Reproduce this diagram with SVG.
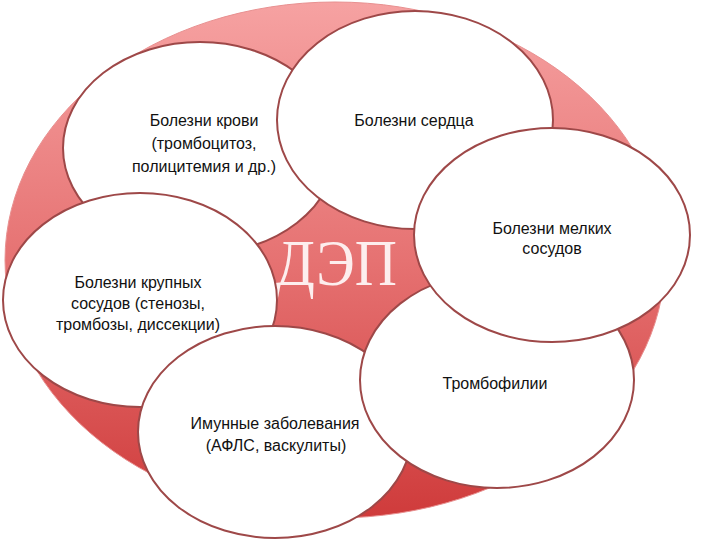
<svg xmlns="http://www.w3.org/2000/svg" width="720" height="540" viewBox="0 0 720 540">
  <defs>
    <linearGradient id="bg" x1="0" y1="0" x2="0" y2="1">
      <stop offset="0" stop-color="#f6a2a2"/>
      <stop offset="0.5" stop-color="#e67272"/>
      <stop offset="1" stop-color="#cf3b3b"/>
    </linearGradient>
  </defs>
  <style>
    .node { fill: #ffffff; stroke: #9e4848; stroke-width: 2; }
    .lbl { font-family: "Liberation Sans", Arial, sans-serif; font-size: 16px; fill: #111111; text-anchor: middle; }
    .dep { font-family: "Liberation Serif", "Times New Roman", serif; font-size: 66px; fill: #fdeeee; text-anchor: middle; }
  </style>
  <rect x="0" y="0" width="720" height="540" fill="#ffffff"/>
  <g id="background">
    <ellipse cx="335" cy="260" rx="330" ry="258" fill="url(#bg)" stroke="#e89090" stroke-width="1"/>
  </g>
  <g id="center">
    <text class="dep" x="336" y="285" textLength="122" lengthAdjust="spacingAndGlyphs">ДЭП</text>
  </g>
  <g id="node-blood">
    <ellipse class="node" cx="200" cy="148" rx="137" ry="106"/>
    <text class="lbl" x="204" y="126">Болезни крови</text>
    <text class="lbl" x="204" y="149">(тромбоцитоз,</text>
    <text class="lbl" x="204" y="172">полицитемия и др.)</text>
  </g>
  <g id="node-heart">
    <ellipse class="node" cx="415" cy="120" rx="138" ry="109"/>
    <text class="lbl" x="414" y="126">Болезни сердца</text>
  </g>
  <g id="node-large-vessels">
    <ellipse class="node" cx="140" cy="300" rx="137" ry="107"/>
    <text class="lbl" x="138" y="288">Болезни крупных</text>
    <text class="lbl" x="138" y="309">сосудов (стенозы,</text>
    <text class="lbl" x="138" y="330">тромбозы, диссекции)</text>
  </g>
  <g id="node-immune">
    <ellipse class="node" cx="275" cy="432" rx="137" ry="106"/>
    <text class="lbl" x="275" y="429">Имунные заболевания</text>
    <text class="lbl" x="276" y="451">(АФЛС, васкулиты)</text>
  </g>
  <g id="node-thrombophilia">
    <ellipse class="node" cx="497" cy="380" rx="137" ry="108"/>
    <text class="lbl" x="495" y="389">Тромбофилии</text>
  </g>
  <g id="node-small-vessels">
    <ellipse class="node" cx="552" cy="235" rx="138" ry="107"/>
    <text class="lbl" x="552" y="234">Болезни мелких</text>
    <text class="lbl" x="552" y="254">сосудов</text>
  </g>
</svg>
